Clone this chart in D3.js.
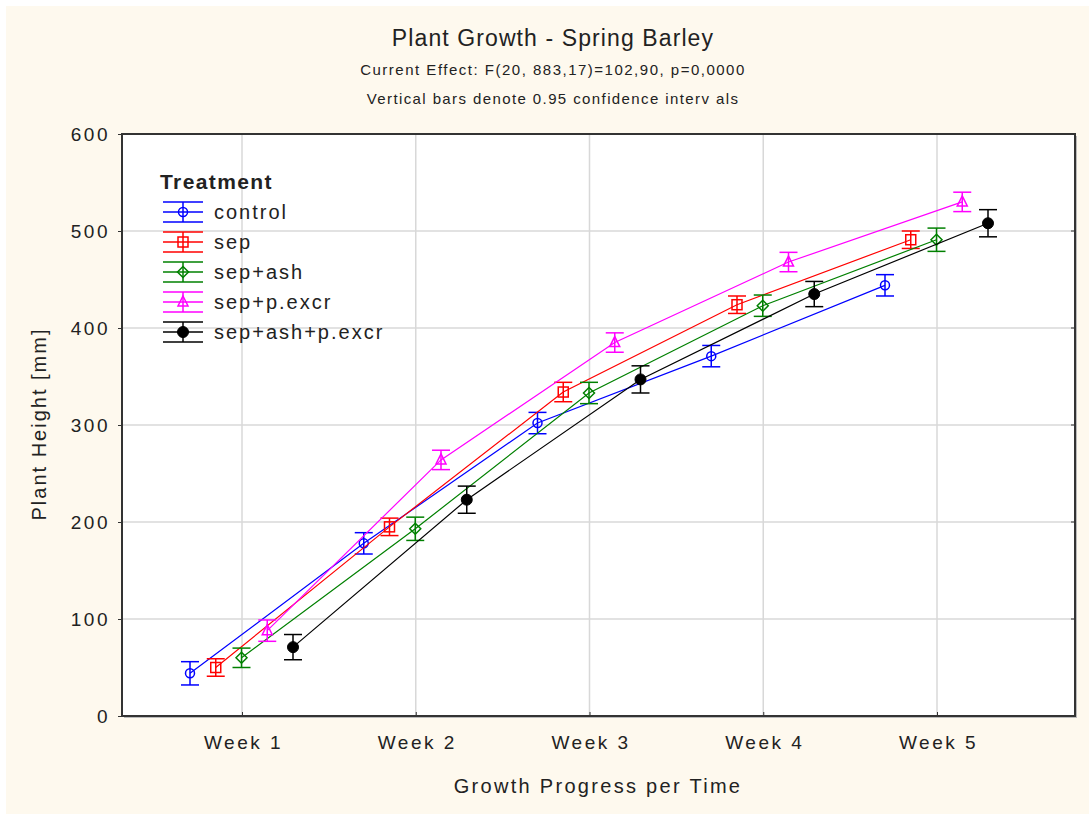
<!DOCTYPE html>
<html><head><meta charset="utf-8">
<script src="https://cdn.jsdelivr.net/npm/d3@7"></script>
<style>body{margin:0;background:#fff;} text{font-family:"Liberation Sans",Arial,sans-serif;}</style>
</head><body>
<svg id="c" width="1089" height="814"></svg>
<script>
const weeks = ["Week 1","Week 2","Week 3","Week 4","Week 5"];
const seriesNames = ["control","sep","sep+ash","sep+p.excr","sep+ash+p.excr"];
const seriesColors = ["#0000ff","#ff0000","#008000","#ff00ff","#000000"];
const controlVals = [44, 178, 302, 371, 444];
const sepVals = [50, 195, 334, 424, 491];
const sepAshVals = [60, 193, 333, 423, 491];
const sepPexcrVals = [88, 264, 385, 468, 530];
const sepAshPexcrVals = [71, 223, 347, 435, 508];
const controlCI = [12, 11, 11, 11, 11];
const sepCI = [9, 9, 10, 9, 9];
const sepAshCI = [10, 12, 11, 11, 12];
const sepPexcrCI = [11, 10, 10, 10, 10];
const sepAshPexcrCI = [13, 14, 14, 13, 14];
const yTicks = [0,100,200,300,400,500,600];

const series = [
  {name: seriesNames[0], vals: controlVals, ci: controlCI, color: seriesColors[0], shape: "circle"},
  {name: seriesNames[1], vals: sepVals, ci: sepCI, color: seriesColors[1], shape: "square"},
  {name: seriesNames[2], vals: sepAshVals, ci: sepAshCI, color: seriesColors[2], shape: "diamond"},
  {name: seriesNames[3], vals: sepPexcrVals, ci: sepPexcrCI, color: seriesColors[3], shape: "triangle"},
  {name: seriesNames[4], vals: sepAshPexcrVals, ci: sepAshPexcrCI, color: seriesColors[4], shape: "filled"}
];

const svg = d3.select("#c");
svg.append("rect").attr("x",6).attr("y",6).attr("width",1083).attr("height",808).attr("fill","#fef9ee");

const L = 122, R = 1075, T = 134, B = 716;
svg.append("rect").attr("x",L+2).attr("y",T+2).attr("width",R-L).attr("height",B-T).attr("fill","#bbb");
svg.append("rect").attr("x",L).attr("y",T).attr("width",R-L).attr("height",B-T).attr("fill","#fff");

const x = d3.scalePoint().domain(weeks).range([242, 937]);
const y = d3.scaleLinear().domain([0,600]).range([B, T]);
const offsets = d3.scalePoint().domain(seriesNames).range([-52, 51]);

// grid
const g = svg.append("g");
g.selectAll(".hg").data(yTicks.slice(1,-1)).join("line")
  .attr("x1",L).attr("x2",R).attr("y1",d=>y(d)).attr("y2",d=>y(d))
  .attr("stroke","#d8d8d8").attr("stroke-width",1.5);
g.selectAll(".vg").data(weeks).join("line")
  .attr("x1",d=>x(d)).attr("x2",d=>x(d)).attr("y1",T).attr("y2",B)
  .attr("stroke","#d8d8d8").attr("stroke-width",1.5);

// axes
const yAxis = d3.axisLeft(y).tickValues(yTicks).tickSize(4).tickPadding(8);
const ya = svg.append("g").attr("transform",`translate(${L},0)`).call(yAxis);
ya.select(".domain").remove();
ya.selectAll("text").attr("font-size",19).attr("fill","#222").attr("font-family","Liberation Sans, Arial").attr("letter-spacing","2.5");
ya.selectAll("line").attr("stroke","#333");
const xAxis = d3.axisBottom(x).tickSize(-4).tickPadding(20);
const xa = svg.append("g").attr("transform",`translate(0,${B})`).call(xAxis);
xa.select(".domain").remove();
xa.selectAll("text").attr("font-size",19).attr("fill","#222").attr("font-family","Liberation Sans, Arial").attr("letter-spacing","2.5").attr("dx","1");
xa.selectAll("line").attr("stroke","#333");
// right-side ticks
svg.selectAll(".rt").data(yTicks.slice(1,-1)).join("line")
  .attr("x1",R-4).attr("x2",R).attr("y1",d=>y(d)).attr("y2",d=>y(d)).attr("stroke","#333");

svg.append("rect").attr("x",L).attr("y",T).attr("width",R-L).attr("height",B-T)
  .attr("fill","none").attr("stroke","#333").attr("stroke-width",2);

// markers
function drawMarker(sel, shape, color, cx, cy) {
  if (shape==="circle") sel.append("circle").attr("cx",cx).attr("cy",cy).attr("r",4.5).attr("fill","none").attr("stroke",color).attr("stroke-width",1.5);
  else if (shape==="square") sel.append("rect").attr("x",cx-5).attr("y",cy-5).attr("width",10).attr("height",10).attr("fill","none").attr("stroke",color).attr("stroke-width",1.5);
  else if (shape==="diamond") sel.append("path").attr("d",`M${cx},${cy-5.5}L${cx+5.5},${cy}L${cx},${cy+5.5}L${cx-5.5},${cy}Z`).attr("fill","none").attr("stroke",color).attr("stroke-width",1.5);
  else if (shape==="triangle") sel.append("path").attr("d",`M${cx},${cy-6}L${cx+5},${cy+4}L${cx-5},${cy+4}Z`).attr("fill","none").attr("stroke",color).attr("stroke-width",1.5);
  else sel.append("circle").attr("cx",cx).attr("cy",cy).attr("r",5.5).attr("fill",color).attr("stroke",color);
}

const line = d3.line();
series.forEach(s => {
  const off = offsets(s.name);
  const pts = weeks.map((w,i)=>[x(w)+off, y(s.vals[i])]);
  const sg = svg.append("g");
  sg.append("path").attr("d",line(pts)).attr("fill","none").attr("stroke",s.color).attr("stroke-width",1.2);
  weeks.forEach((w,i)=>{
    const cx = x(w)+off, lo = y(s.vals[i]-s.ci[i]), hi = y(s.vals[i]+s.ci[i]);
    sg.append("line").attr("x1",cx).attr("x2",cx).attr("y1",lo).attr("y2",hi).attr("stroke",s.color).attr("stroke-width",1.5);
    [lo,hi].forEach(yy=>sg.append("line").attr("x1",cx-9).attr("x2",cx+9).attr("y1",yy).attr("y2",yy).attr("stroke",s.color).attr("stroke-width",1.5));
    drawMarker(sg, s.shape, s.color, cx, y(s.vals[i]));
  });
});

// legend
const lg = svg.append("g");
lg.append("text").attr("x",160).attr("y",189).attr("font-size",21).attr("font-weight","bold").attr("letter-spacing","1.4").attr("fill","#222").text("Treatment");
series.forEach((s,i)=>{
  const cy = 212 + i*30;
  lg.append("line").attr("x1",163).attr("x2",203).attr("y1",cy).attr("y2",cy).attr("stroke",s.color).attr("stroke-width",1.5);
  [cy-10, cy+10].forEach(yy=>lg.append("line").attr("x1",163).attr("x2",203).attr("y1",yy).attr("y2",yy).attr("stroke",s.color).attr("stroke-width",1.5));
  lg.append("line").attr("x1",183).attr("x2",183).attr("y1",cy-10).attr("y2",cy+10).attr("stroke",s.color).attr("stroke-width",1.5);
  drawMarker(lg, s.shape, s.color, 183, cy);
  lg.append("text").attr("x",214).attr("y",cy+7).attr("font-size",20).attr("letter-spacing","2").attr("fill","#222").text(s.name);
});

// titles
svg.append("text").attr("x",553).attr("y",46).attr("text-anchor","middle").attr("font-size",23).attr("letter-spacing","1.1").attr("fill","#222").text("Plant Growth - Spring Barley");
svg.append("text").attr("x",553).attr("y",75).attr("text-anchor","middle").attr("font-size",15).attr("letter-spacing","1.5").attr("fill","#222").text("Current Effect: F(20, 883,17)=102,90, p=0,0000");
svg.append("text").attr("x",553).attr("y",104).attr("text-anchor","middle").attr("font-size",15).attr("letter-spacing","1.4").attr("fill","#222").text("Vertical bars  denote 0.95 confidence interv als");
svg.append("text").attr("x",598).attr("y",793).attr("text-anchor","middle").attr("font-size",20).attr("fill","#222").attr("letter-spacing","2.3").text("Growth Progress per Time");
svg.append("text").attr("transform","translate(46,424) rotate(-90)").attr("text-anchor","middle").attr("font-size",20).attr("letter-spacing","2").attr("fill","#222").text("Plant Height [mm]");
</script>
</body></html>
